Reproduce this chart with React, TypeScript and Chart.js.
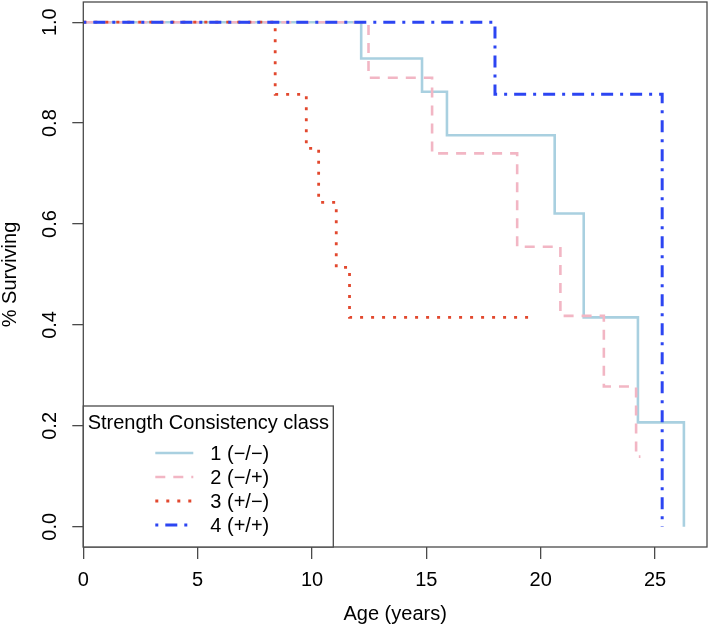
import React, { useEffect, useRef } from 'react';
import { Chart, registerables } from 'chart.js';

Chart.register(...registerables);

// ---- data (Kaplan–Meier steps) ----
const classLabels = ['1 (\u2212/\u2212)', '2 (\u2212/+)', '3 (+/\u2212)', '4 (+/+)'];
const legendTitle = 'Strength Consistency class';

const s1Times = [0, 12.15, 14.81, 15.9, 20.61, 21.88, 24.25, 26.26];
const s1Surv = [1, 0.928, 0.862, 0.776, 0.621, 0.415, 0.207, 0];

const s2Times = [0, 12.47, 15.25, 18.97, 20.86, 22.76, 24.17, 24.36];
const s2Surv = [1, 0.89, 0.74, 0.555, 0.418, 0.278, 0.139, 0.139];

const s3Times = [0, 8.39, 9.75, 10.29, 11.06, 11.64, 19.55];
const s3Surv = [1, 0.857, 0.75, 0.643, 0.514, 0.415, 0.415];

const s4Times = [0, 18.0, 25.31];
const s4Surv = [1, 0.857, 0];

const xTicks = [0, 5, 10, 15, 20, 25];
const xTickLabels = ['0', '5', '10', '15', '20', '25'];
const yTicks = [0, 0.2, 0.4, 0.6, 0.8, 1.0];
const yTickLabels = ['0.0', '0.2', '0.4', '0.6', '0.8', '1.0'];

const FONT = '"Liberation Sans", Arial, Helvetica, sans-serif';

const toPts = (t: number[], s: number[]) => t.map((x, i) => ({ x, y: s[i] }));

const framePlugin = {
  id: 'rFrameLegend',
  afterDraw(chart: any) {
    const { ctx, chartArea: ca } = chart;
    ctx.save();
    // plot box
    ctx.strokeStyle = '#4a4a4a';
    ctx.lineWidth = 1.3;
    ctx.strokeRect(ca.left, ca.top, ca.right - ca.left, ca.bottom - ca.top);

    // legend box
    const lx = ca.left;
    const lw = 250;
    const lh = 141;
    const ly = ca.bottom - lh;
    ctx.fillStyle = '#ffffff';
    ctx.fillRect(lx, ly, lw, lh);
    ctx.strokeRect(lx, ly, lw, lh);

    ctx.fillStyle = '#000';
    ctx.font = `20px ${FONT}`;
    ctx.textBaseline = 'middle';
    ctx.textAlign = 'center';
    ctx.fillText(legendTitle, lx + lw / 2, ly + 17);

    ctx.textAlign = 'left';
    chart.data.datasets.forEach((ds: any, i: number) => {
      const y = ly + 47 + i * 24;
      ctx.save();
      ctx.strokeStyle = ds.borderColor;
      ctx.lineWidth = ds.borderWidth;
      ctx.setLineDash(ds.borderDash || []);
      ctx.beginPath();
      ctx.moveTo(lx + 72, y);
      ctx.lineTo(lx + 110, y);
      ctx.stroke();
      ctx.restore();
      ctx.fillStyle = '#000';
      ctx.fillText(ds.label, lx + 127, y + 1);
    });
    ctx.restore();
  },
};

export default function App() {
  const ref = useRef<HTMLCanvasElement | null>(null);

  useEffect(() => {
    if (!ref.current) return;
    const tickFont = { family: FONT, size: 20 };
    const chart = new Chart(ref.current, {
      type: 'line',
      data: {
        datasets: [
          {
            label: classLabels[0],
            data: toPts(s1Times, s1Surv),
            borderColor: '#a9d0e0',
            borderWidth: 2.6,
            stepped: 'before',
            order: 3,
          },
          {
            label: classLabels[1],
            data: toPts(s2Times, s2Surv),
            borderColor: '#f2b6c4',
            borderWidth: 2.6,
            borderDash: [10, 8],
            stepped: 'before',
            order: 2,
          },
          {
            label: classLabels[2],
            data: toPts(s3Times, s3Surv),
            borderColor: '#e2482e',
            borderWidth: 2.8,
            borderDash: [3, 8],
            stepped: 'before',
            order: 1,
          },
          {
            label: classLabels[3],
            data: toPts(s4Times, s4Surv),
            borderColor: '#2c45f2',
            borderWidth: 3,
            borderDash: [3, 7, 12, 7],
            stepped: 'before',
            order: 0,
          },
        ] as any,
      },
      options: {
        responsive: false,
        animation: false,
        layout: { padding: { left: 0, right: 2, top: 2, bottom: 0 } },
        plugins: { legend: { display: false }, tooltip: { enabled: false } },
        elements: { point: { radius: 0 }, line: { tension: 0, fill: false } },
        scales: {
          x: {
            type: 'linear',
            min: 0,
            max: 27.27,
            afterBuildTicks: (s: any) => {
              s.ticks = xTicks.map((v) => ({ value: v }));
            },
            afterFit: (s: any) => {
              s.height = 81;
              s.paddingLeft = 0;
              s.paddingRight = 0;
            },
            grid: {
              display: true,
              drawOnChartArea: false,
              drawTicks: true,
              tickLength: 12,
              tickColor: '#4a4a4a',
              lineWidth: 1.3,
            },
            border: { display: false },
            ticks: {
              autoSkip: false,
              maxRotation: 0,
              minRotation: 0,
              padding: 9,
              color: '#000',
              font: tickFont,
              callback: (_v: any, i: number) => xTickLabels[i],
            },
            title: {
              display: true,
              text: 'Age (years)',
              color: '#000',
              font: { family: FONT, size: 20, lineHeight: 1 },
              padding: { top: 0, bottom: 4 },
            },
          },
          y: {
            type: 'linear',
            min: -0.04,
            max: 1.04,
            afterBuildTicks: (s: any) => {
              s.ticks = yTicks.map((v) => ({ value: v }));
            },
            afterFit: (s: any) => {
              s.width = 83.3;
              s.paddingTop = 0;
              s.paddingBottom = 0;
            },
            grid: {
              display: true,
              drawOnChartArea: false,
              drawTicks: true,
              tickLength: 11,
              tickColor: '#4a4a4a',
              lineWidth: 1.3,
            },
            border: { display: false },
            ticks: {
              autoSkip: false,
              minRotation: 90,
              maxRotation: 90,
              crossAlign: 'center',
              padding: 8,
              color: '#000',
              font: tickFont,
              callback: (_v: any, i: number) => yTickLabels[i],
            },
            title: {
              display: true,
              text: '% Surviving',
              color: '#000',
              font: { family: FONT, size: 20, lineHeight: 1 },
              padding: { top: 0.5, bottom: 0 },
            },
          },
        },
      } as any,
      plugins: [framePlugin],
    });
    return () => chart.destroy();
  }, []);

  return (
    <div style={{ position: 'fixed', left: 0, top: 0, width: 709, height: 628, background: '#fff' }}>
      <canvas ref={ref} width={709} height={628} style={{ display: 'block' }} />
    </div>
  );
}
